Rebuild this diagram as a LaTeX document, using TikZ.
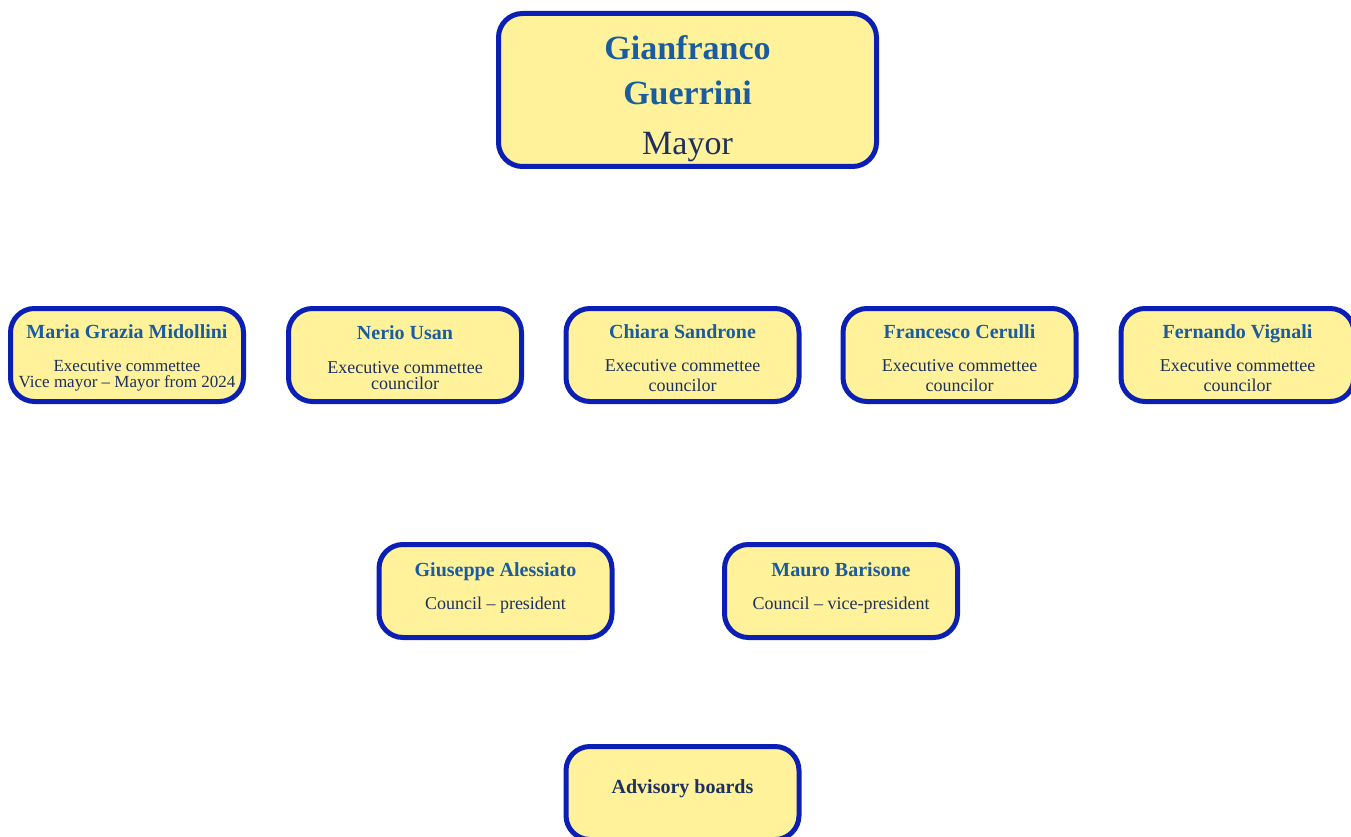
\documentclass[tikz,border=0pt]{standalone}
\usepackage{fontspec}
\setmainfont{Liberation Serif}
\definecolor{boxyellow}{HTML}{FFF29A}
\definecolor{boxblue}{HTML}{0C1FB5}
\definecolor{namecol}{HTML}{1B5C9E}
\definecolor{rolecol}{HTML}{1C3160}
\setlength{\lineskiplimit}{-30pt}
\newcommand{\nametext}[1]{{\fontsize{20}{14}\selectfont\bfseries\color{namecol}\rule{0pt}{20pt}#1}}
\newcommand{\roletext}[1]{{\color{rolecol}#1}}
\newcommand{\headname}[1]{{\fontsize{34}{45}\selectfont\bfseries\color{namecol}#1}}
\newcommand{\headrole}[1]{{\fontsize{34}{45}\selectfont\color{rolecol}#1}}

\begin{document}
\begin{tikzpicture}[
      x=1pt, y=-1pt,
      every node/.style={inner sep=0pt},
      memberbox/.style={draw=boxblue, line width=5pt, fill=boxyellow,
        rounded corners=24pt, align=center, font=\fontsize{18}{14}\selectfont,
        minimum width=233pt, minimum height=93pt},
      mayorbox/.style={memberbox, font=\fontsize{34}{45}\selectfont,
        minimum width=378pt, minimum height=153pt}
    ]
      \useasboundingbox (0,0) rectangle (1351,837);
      \node[mayorbox] (mayor) at (687.5,90)
        {\headname{\rule{0pt}{42pt}Gianfranco}\\\headname{Guerrini}\\[5pt]\headrole{Mayor}};
      % executive committee
      \node[memberbox, font=\fontsize{17}{14}\selectfont] (midollini) at (127,355)
        {\nametext{Maria Grazia Midollini}\\[19pt]\roletext{Executive commettee}\\[2pt]\roletext{Vice mayor -- Mayor from 2024}};
      \node[memberbox] (usan) at (405,355)
        {\nametext{Nerio Usan}\\[20pt]\roletext{Executive commettee}\\[2pt]\roletext{councilor}};
      \node[memberbox] (sandrone) at (682.5,355)
        {\nametext{Chiara Sandrone}\\[19pt]\roletext{Executive commettee}\\[6pt]\roletext{councilor}};
      \node[memberbox] (cerulli) at (959.5,355)
        {\nametext{Francesco Cerulli}\\[19pt]\roletext{Executive commettee}\\[6pt]\roletext{councilor}};
      \node[memberbox] (vignali) at (1237.5,355)
        {\nametext{Fernando Vignali}\\[19pt]\roletext{Executive commettee}\\[6pt]\roletext{councilor}};
      % council
      \node[memberbox] (alessiato) at (495.5,591)
        {\nametext{Giuseppe Alessiato}\\[19pt]\roletext{Council -- president\rule[-17pt]{0pt}{17pt}}};
      \node[memberbox] (barisone) at (841,591)
        {\nametext{Mauro Barisone}\\[19pt]\roletext{Council -- vice-president\rule[-17pt]{0pt}{17pt}}};
      \node[memberbox] (advisory) at (682.5,793)
        {{\fontsize{20}{14}\selectfont\bfseries\color{rolecol}\rule[-14pt]{0pt}{28pt}Advisory boards}};
    \end{tikzpicture}
\end{document}
